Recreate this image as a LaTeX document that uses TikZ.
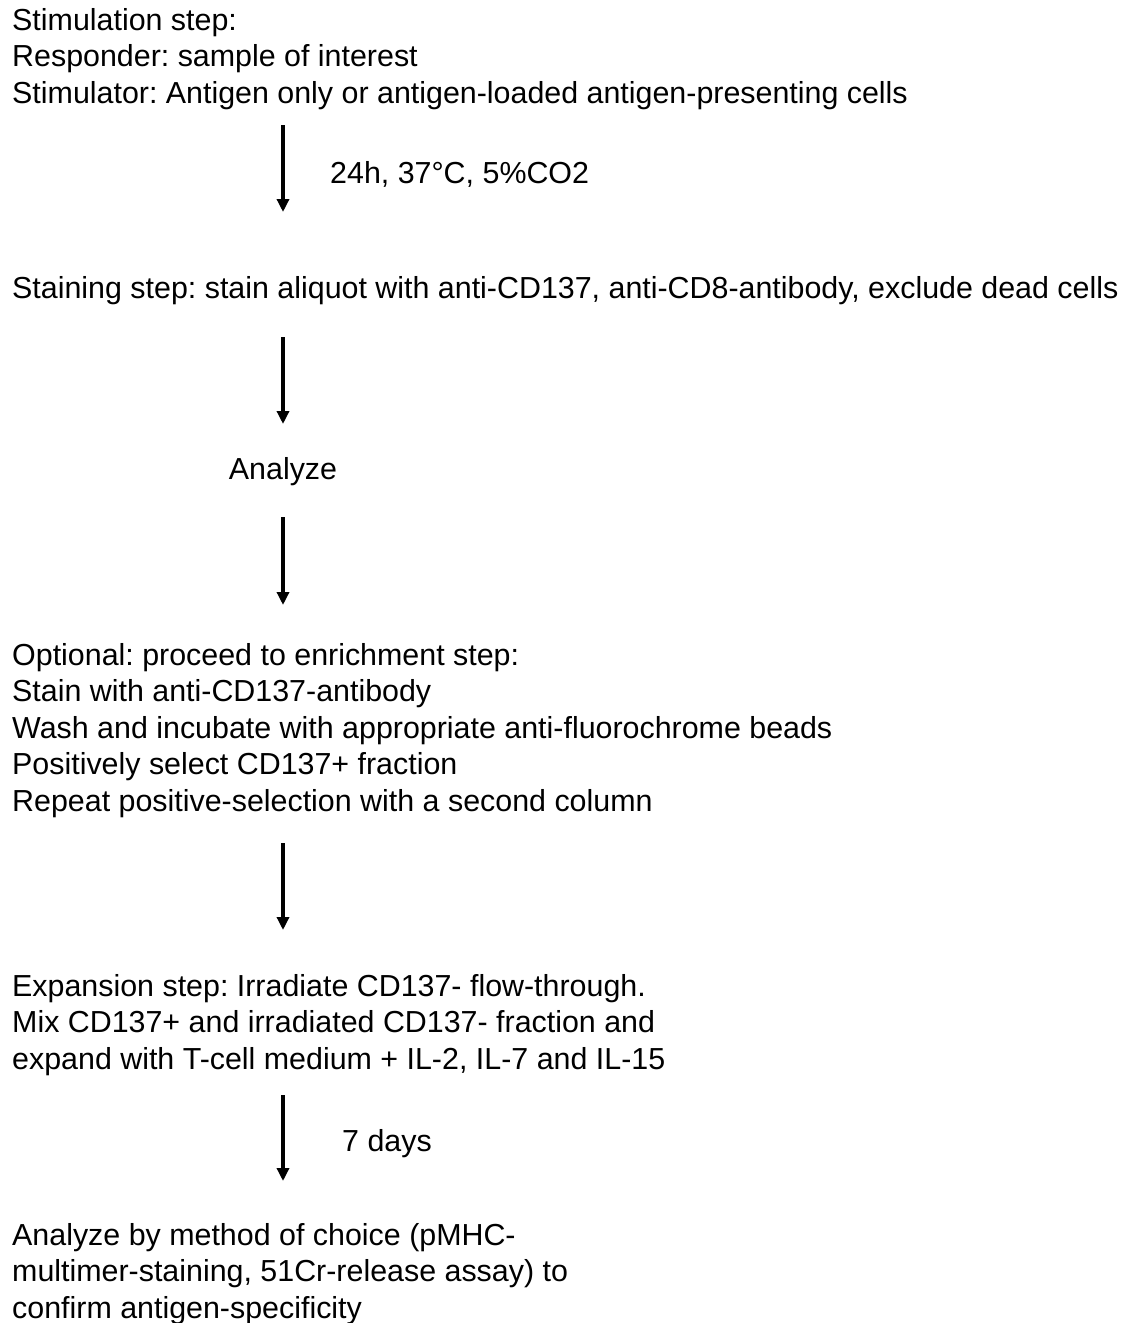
\documentclass[tikz,border=0pt]{standalone}
\usepackage{fontspec}
\setmainfont{Liberation Sans}
\usetikzlibrary{arrows.meta}
\begin{document}
\frenchspacing
\begin{tikzpicture}[x=1pt,y=-1pt,
  txt/.style={anchor=base west,inner sep=0pt,align=left,font=\fontsize{30.4}{36.5}\selectfont},
  lbl/.style={inner sep=0pt,font=\fontsize{30.4}{36.5}\selectfont},
  arr/.style={line width=3.3pt,-{Triangle[length=13pt,width=12pt]}}]
\useasboundingbox[fill=white] (0,0) rectangle (1133,1323);
\node[txt] (stim) at (12,103) {Stimulation step:\\Responder: sample of interest\\Stimulator: Antigen only or antigen-loaded antigen-presenting cells};
\node[txt] (stain) at (12,298) {Staining step: stain aliquot with anti-CD137, anti-CD8-antibody, exclude dead cells};
\node[lbl,anchor=base] (ana) at (283,479) {Analyze};
\node[txt] (opt) at (12,811) {Optional: proceed to enrichment step:\\Stain with anti-CD137-antibody\\Wash and incubate with appropriate anti-fluorochrome beads\\Positively select CD137+ fraction\\Repeat positive-selection with a second column};
\node[txt] (exp) at (12,1069) {Expansion step: Irradiate CD137- flow-through.\\Mix CD137+ and irradiated CD137- fraction and\\expand with T-cell medium + IL-2, IL-7 and IL-15};
\node[txt] (fin) at (12,1318) {Analyze by method of choice (pMHC-\\multimer-staining, 51Cr-release assay) to\\confirm antigen-specificity};
\coordinate (a1s) at (283,125); \coordinate (a1e) at (283,212);
\coordinate (a2s) at (283,337); \coordinate (a2e) at (283,424);
\coordinate (a3s) at (283,517); \coordinate (a3e) at (283,605);
\coordinate (a4s) at (283,843); \coordinate (a4e) at (283,930);
\coordinate (a5s) at (283,1095); \coordinate (a5e) at (283,1181);
\draw[arr] (a1s) -- (a1e);
\draw[arr] (a2s) -- (a2e);
\draw[arr] (a3s) -- (a3e);
\draw[arr] (a4s) -- (a4e);
\draw[arr] (a5s) -- (a5e);
\node[lbl,anchor=base west] (l1) at (330,183) {24h, 37°C, 5\%CO2};
\node[lbl,anchor=base west] (l5) at (342,1151) {7 days};
\end{tikzpicture}
\end{document}
